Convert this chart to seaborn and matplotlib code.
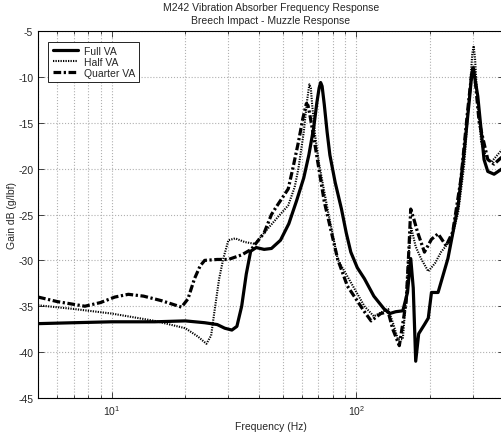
import numpy as np
import pandas as pd
import matplotlib
matplotlib.use("Agg")
import matplotlib.pyplot as plt
import seaborn as sns
from matplotlib.ticker import LogLocator, NullFormatter

# Values (frequency in Hz, gain in dB)
full_freq = [5, 7, 10, 15, 20, 24, 27, 29, 31, 32.5, 34, 35.5, 37, 39, 42, 45, 49, 53,
             57, 61, 64, 67, 69, 70.5, 71.5, 72.5, 74, 76, 78, 82, 87, 91, 95, 101, 108,
             118, 130, 137, 145, 155, 162, 167, 171, 175, 180, 190, 197, 203, 216, 237,
             261, 276, 290, 296, 300, 305, 314, 333, 345, 366, 395]
full_gain = [-36.9, -36.8, -36.7, -36.7, -36.6, -36.8, -37.0, -37.4, -37.6, -37.2, -35.0,
             -31.5, -29.0, -28.6, -28.8, -28.7, -27.8, -26.0, -23.5, -21.0, -18.5, -15.5,
             -12.8, -11.2, -10.6, -11.0, -13.0, -16.0, -18.5, -21.5, -24.4, -27.0, -29.1,
             -30.8, -32.0, -33.9, -35.3, -35.8, -35.6, -35.5, -33.5, -29.8, -33.0, -41.0,
             -38.0, -37.0, -36.3, -33.5, -33.5, -29.8, -24.0, -18.2, -12.5, -10.0, -9.1,
             -10.0, -12.1, -19.0, -20.3, -20.6, -20.0]

half_freq = [5, 7, 10, 15, 20, 22.5, 24.4, 25.5, 26.3, 27.5, 28.6, 30, 32, 35, 38.5, 42,
             47, 52.7, 56, 58, 61, 63, 64.3, 65.2, 66, 68, 70.5, 76.7, 84, 95, 108, 118,
             128, 135, 142, 148, 155, 160, 164, 168, 175, 184, 197, 210, 222, 245, 261,
             276, 292, 298, 302, 306, 312, 324, 340, 356, 395]
half_gain = [-34.9, -35.3, -35.8, -36.6, -37.4, -38.3, -39.1, -38.2, -35.6, -32.0, -29.8,
             -27.8, -27.6, -28.0, -28.2, -27.0, -25.5, -24.0, -22.0, -20.0, -16.0, -12.5,
             -10.8, -11.2, -13.0, -16.5, -19.5, -24.7, -29.9, -32.4, -35.0, -36.1, -35.6,
             -35.3, -37.0, -38.6, -38.6, -34.0, -29.1, -26.5, -28.5, -29.8, -31.2, -30.3,
             -29.1, -27.7, -24.8, -19.7, -11.0, -7.5, -6.6, -8.0, -12.0, -17.1, -18.8,
             -19.3, -17.9]

quarter_freq = [5, 6, 7.77, 9, 10.3, 11.7, 13.5, 16, 19.3, 20.5, 21.8, 23, 24, 27, 30, 34,
                37.2, 42, 45, 47, 49.5, 52.7, 55, 58, 60.5, 62.5, 63.5, 64.5, 67.5, 74, 84,
                92, 108, 115, 126, 135, 141, 150, 160, 164, 167, 172, 178, 190, 203, 216,
                233, 248, 268, 285, 296, 300, 305, 318, 345, 366, 395]
quarter_gain = [-34.0, -34.5, -35.0, -34.6, -34.0, -33.7, -33.9, -34.4, -35.1, -34.2, -32.0,
                -30.6, -30.0, -29.9, -29.9, -29.4, -28.8, -27.0, -25.0, -24.2, -23.3, -22.2,
                -20.0, -17.1, -14.5, -12.9, -13.1, -14.0, -17.1, -23.6, -29.9, -32.8, -35.6,
                -36.6, -35.8, -35.6, -37.5, -39.3, -34.5, -29.0, -24.4, -25.5, -26.9, -29.1,
                -27.7, -27.1, -28.4, -26.9, -21.1, -13.8, -9.8, -8.8, -9.8, -14.9, -19.0,
                -19.5, -18.7]

series_names = ["Full VA", "Half VA", "Quarter VA"]
y_ticks = list(range(-45, 0, 5))

sns.set_theme(style="ticks")
plt.rcParams['font.family'] = ['Liberation Sans', 'DejaVu Sans']
plt.rcParams['axes.unicode_minus'] = False

fig = plt.figure(figsize=(5.01, 4.35), dpi=100)
ax = fig.add_axes([0.076, 0.083, 0.929, 0.843])

styles = [("-", 2.3), ((0, (0.6, 0.6)), 1.5), ((0, (2.4, 0.8, 0.7, 0.8)), 2.3)]
for name, (xs, ys), (ls, lw) in zip(series_names,
                                    [(full_freq, full_gain), (half_freq, half_gain),
                                     (quarter_freq, quarter_gain)],
                                    styles):
    df = pd.DataFrame({"Frequency": xs, "Gain": ys})
    sns.lineplot(data=df, x="Frequency", y="Gain", ax=ax, color="black",
                 linestyle=ls, linewidth=lw, label=name, sort=False)

ax.set_xscale("log")
ax.set_xlim(5, 400)
ax.set_ylim(-45, -5)
ax.set_yticks(y_ticks)
ax.xaxis.set_minor_locator(LogLocator(base=10, subs=np.arange(2, 10)))
ax.xaxis.set_minor_formatter(NullFormatter())

ax.grid(True, which="major", color="#b0b0b0", linestyle=":", linewidth=0.8)
ax.grid(True, which="minor", axis="x", color="#b0b0b0", linestyle=":", linewidth=0.8)
ax.tick_params(which="both", direction="in", top=True, right=True, labelsize=7.5,
               length=4, width=0.6)
ax.tick_params(which="minor", length=2)
for sp in ax.spines.values():
    sp.set_color("black")
    sp.set_linewidth(0.8)

ax.set_xlabel("Frequency (Hz)", fontsize=7.5, labelpad=3)
ax.set_ylabel("Gain dB (g/lbf)", fontsize=7.5, labelpad=1)
ax.set_title("M242 Vibration Absorber Frequency Response\nBreech Impact - Muzzle Response",
             fontsize=7.5, linespacing=1.3, pad=6)

leg = ax.legend(loc="upper left", fontsize=7.5, frameon=True, fancybox=False,
                edgecolor="black", framealpha=1, borderaxespad=1.0,
                handlelength=2.4, borderpad=0.4, labelspacing=0.1, handletextpad=0.6)
leg.get_frame().set_linewidth(0.6)

fig.savefig("out.png", dpi=100)
